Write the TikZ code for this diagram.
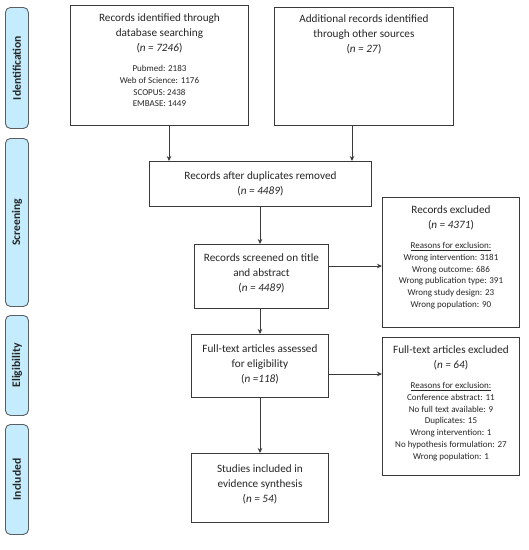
\documentclass[tikz,border=0pt]{standalone}
\usepackage{fontspec}
\setmainfont{Carlito}
\usetikzlibrary{arrows.meta}
\definecolor{phasefill}{HTML}{C4ECFC}
\definecolor{phasedraw}{HTML}{5A5F63}
\definecolor{boxdraw}{HTML}{3A3A3A}
\tikzset{
  x=1pt, y=-1pt,
  box/.style={draw=boxdraw, line width=0.9pt, fill=white, inner sep=0pt, anchor=north west},
  txt/.style={align=center, font=\fontsize{11.2}{15}\selectfont, inner sep=0pt, text=black!85},
  small/.style={align=center, font=\fontsize{9}{11.8}\selectfont, inner sep=0pt, text=black!85},
  phase/.style={draw=phasedraw, line width=0.9pt, fill=phasefill, rounded corners=5pt, anchor=north west, inner sep=0pt},
  phasetxt/.style={rotate=90, font=\fontsize{11.6}{14}\selectfont\bfseries, text=black!85},
  arr/.style={draw=boxdraw, line width=0.8pt, -{Stealth[length=5pt,width=4.5pt]}},
}
\begin{document}
\begin{tikzpicture}
\useasboundingbox (0,0) rectangle (529,550);
% phase bars
\node[phase, minimum width=23pt, minimum height=121pt] (p1) at (5,7) {};
\node[phasetxt] at (p1.center) {Identification};
\node[phase, minimum width=23pt, minimum height=168pt] (p2) at (5,138) {};
\node[phasetxt] at (p2.center) {Screening};
\node[phase, minimum width=23pt, minimum height=100pt] (p3) at (5,315) {};
\node[phasetxt] at (p3.center) {Eligibility};
\node[phase, minimum width=23pt, minimum height=110pt] (p4) at (5,424) {};
\node[phasetxt] at (p4.center) {Included};
% boxes
\node[box, minimum width=178pt, minimum height=120pt] (b1) at (70,5) {};
\node[txt, anchor=north] (t1) at ([yshift=-9pt]b1.north) {Records identified through\\database searching\\(\textit{n = 7246})};
\node[small, anchor=north] at ([yshift=-60pt]b1.north) {Pubmed: 2183\\Web of Science: 1176\\SCOPUS: 2438\\EMBASE: 1449};

\node[box, minimum width=179pt, minimum height=118pt] (b2) at (274,7) {};
\node[txt, anchor=north] at ([yshift=-8pt]b2.north) {Additional records identified\\through other sources\\(\textit{n = 27})};

\node[box, minimum width=222pt, minimum height=45pt] (b3) at (149,161) {};
\node[txt] at (b3.center) {Records after duplicates removed\\(\textit{n = 4489})};

\node[box, minimum width=134pt, minimum height=64pt] (b4) at (194,244) {};
\node[txt] at ([yshift=3pt]b4.center) {Records screened on title\\and abstract\\(\textit{n = 4489})};

\node[box, minimum width=137pt, minimum height=130pt] (b5) at (382,197) {};
\node[txt, anchor=north] at ([yshift=-9pt]b5.north) {Records excluded\\(\textit{n = 4371})};
\node[small, anchor=north] at ([yshift=-45pt]b5.north) {\underline{Reasons for exclusion:}\\Wrong intervention: 3181\\Wrong outcome: 686\\Wrong publication type: 391\\Wrong study design: 23\\Wrong population: 90};

\node[box, minimum width=137pt, minimum height=63pt] (b6) at (191,334) {};
\node[txt] at ([yshift=2pt]b6.center) {Full-text articles assessed\\for eligibility\\(\textit{n =118})};

\node[box, minimum width=137pt, minimum height=138pt] (b7) at (382,337) {};
\node[txt, anchor=north] at ([yshift=-9pt]b7.north) {Full-text articles excluded\\(\textit{n = 64})};
\node[small, anchor=north] at ([yshift=-45pt]b7.north) {\underline{Reasons for exclusion:}\\Conference abstract: 11\\No full text available: 9\\Duplicates: 15\\Wrong intervention: 1\\No hypothesis formulation: 27\\Wrong population: 1};

\node[box, minimum width=137pt, minimum height=69pt] (b8) at (191,453) {};
\node[txt] at ([yshift=4pt]b8.center) {Studies included in\\evidence synthesis\\(\textit{n = 54})};

% arrows
\draw[arr] (b1.south -| 169,0) -- (b3.north -| 169,0);
\draw[arr] (b2.south -| 352,0) -- (b3.north -| 352,0);
\draw[arr] (b3.south -| 260,0) -- (b4.north -| 260,0);
\draw[arr] (b4.east |- 0,266) -- (b5.west |- 0,266);
\draw[arr] (b4.south -| 260,0) -- (b6.north -| 260,0);
\draw[arr] (b6.east |- 0,374) -- (b7.west |- 0,374);
\draw[arr] (b6.south -| 260,0) -- (b8.north -| 260,0);
\end{tikzpicture}
\end{document}
